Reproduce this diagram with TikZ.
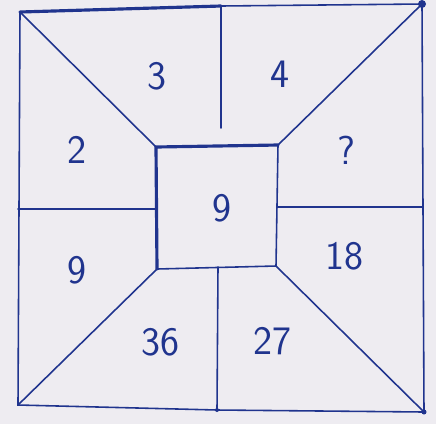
\documentclass[tikz,border=0pt]{standalone}
\usepackage{tikz}
\usetikzlibrary{calc}

\definecolor{paper}{RGB}{238,236,241}
\definecolor{ink}{RGB}{32,52,142}

\begin{document}
\begin{tikzpicture}[
			x=0.02cm, y=-0.02cm,
			num/.style={text=ink, font=\sffamily\fontsize{23}{23}\selectfont, inner sep=0pt},
			ln/.style={draw=ink, line width=0.9pt, line cap=round},
			thk/.style={ln, line width=1.8pt},
			dotc/.style={fill=ink}
		]

		% paper
		\fill[paper] (0,0) rectangle (436,424);
		\useasboundingbox (0,0) rectangle (436,424);

		% outer corners
		\coordinate (otl) at (20,12);
		\coordinate (otr) at (422,4);
		\coordinate (obr) at (424,412);
		\coordinate (obl) at (18,405);
		% inner corners
		\coordinate (itl) at (156,147);
		\coordinate (itr) at (278,145);
		\coordinate (ibr) at (276,266);
		\coordinate (ibl) at (157,269);
		% mid lines
		\coordinate (mt) at (221,6);
		\coordinate (mtb) at (221,128);
		\coordinate (mb) at (217,410);
		\coordinate (mbt) at (218,267);
		\coordinate (ml) at (18,209);
		\coordinate (mlr) at (155,209);
		\coordinate (mr) at (423,207);
		\coordinate (mrl) at (278,207);

		% outer square
		\draw[thk] (otl) -- (mt);
		\draw[ln] (mt) -- (otr) -- (obr) -- (mb) -- (obl) -- (otl);

		% inner square
		\draw[thk] (ibl) -- (itl) -- (itr);
		\draw[ln] (itr) -- (ibr) -- (ibl);

		% diagonals
		\draw[ln] (otl) -- (itl);
		\draw[ln] (otr) -- (itr);
		\draw[ln] (obr) -- (ibr);
		\draw[ln] (obl) -- (ibl);

		% mid lines
		\draw[ln] (mt) -- (mtb);
		\draw[ln] (mb) -- (mbt);
		\draw[ln] (ml) -- (mlr);
		\draw[ln] (mr) -- (mrl);

		\fill[dotc] (otr) circle (4);
		\fill[dotc] (obr) circle (2.5);
		\fill[dotc] (mb) circle (2);

		% numbers
		\node[num] (n3) at (157,76) {3};
		\node[num] (n4) at (280,74) {4};
		\node[num] (n2) at (77,150) {2};
		\node[num] (nq) at (346,150) {?};
		\node[num] (nc) at (222,208) {9};
		\node[num] (n9) at (77,270) {9};
		\node[num] (n18) at (344,256) {18};
		\node[num] (n36) at (160,342) {36};
		\node[num] (n27) at (272,341) {27};
	\end{tikzpicture}
\end{document}
